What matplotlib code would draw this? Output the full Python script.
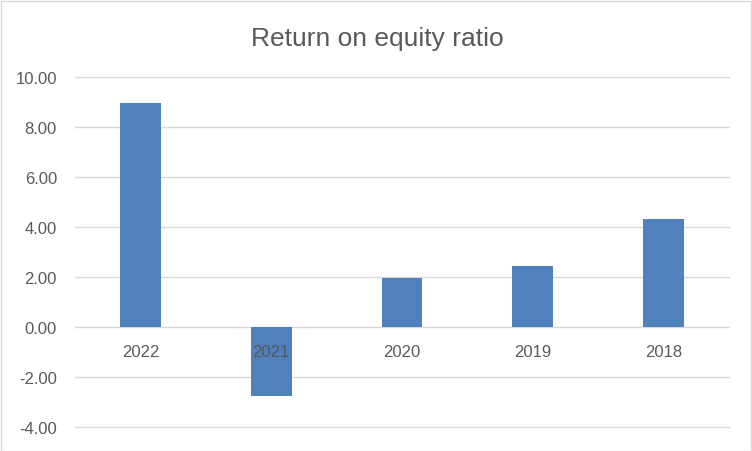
import matplotlib.pyplot as plt
from matplotlib.patches import Rectangle

# data
years = ["2022", "2021", "2020", "2019", "2018"]
roe = [8.96, -2.75, 1.96, 2.44, 4.32]
yticks = [-4, -2, 0, 2, 4, 6, 8, 10]

bar_color = "#4F81BD"
text_color = "#595959"
grid_color = "#D9D9D9"

plt.rcParams['font.family'] = ['Liberation Sans', 'DejaVu Sans']

fig = plt.figure(figsize=(7.52, 4.52), dpi=100)
ax = fig.add_axes([75/752, 1 - 428/452, (729 - 75)/752, (428 - 78)/452])

x = range(len(years))
ax.bar(x, roe, width=0.313, color=bar_color, zorder=2)

ax.set_xlim(-0.5, len(years) - 0.5)
ax.set_ylim(-4, 10)
ax.set_yticks(yticks)
ax.set_yticklabels(["%0.2f" % v for v in yticks], color=text_color, fontsize=12)
ax.tick_params(axis='y', length=0, pad=13)
ax.grid(axis='y', color=grid_color, linewidth=1, zorder=0)
for gl in ax.get_ygridlines():
    gl.set_clip_on(False)

# category labels sit just under the zero line
ax.set_xticks([])
for i, yr in enumerate(years):
    ax.annotate(yr, (i, 0), xytext=(0, -17.5), textcoords='offset points',
                ha='center', va='center', color=text_color, fontsize=12, zorder=3)

for s in ax.spines.values():
    s.set_visible(False)

fig.text(377/752, 1 - 39/452, "Return on equity ratio", ha='center', va='center',
         color=text_color, fontsize=19)

# chart border
fig.patches.append(Rectangle((0.5/752, 0.5/452), 750/752, 450/452, transform=fig.transFigure,
                             fill=False, edgecolor=grid_color, linewidth=1))

fig.savefig("out.png", dpi=100)
